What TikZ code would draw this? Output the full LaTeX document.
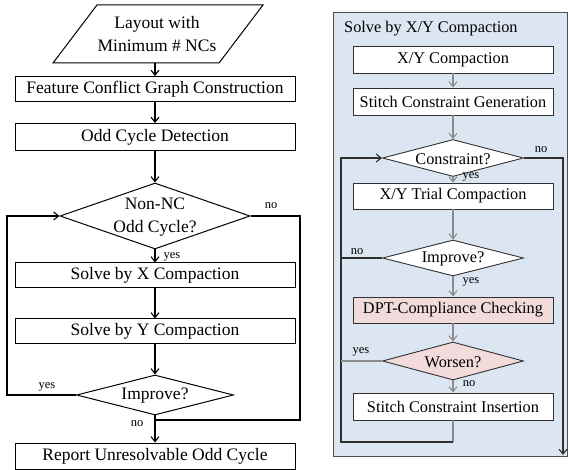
\documentclass[tikz,border=0pt]{standalone}
\usepackage{fontspec}
\setmainfont{Liberation Serif}
\usetikzlibrary{shapes.geometric,arrows.meta}
\definecolor{panelblue}{HTML}{DCE6F2}
\definecolor{pinkfill}{HTML}{F2DCDB}
\definecolor{edgedark}{HTML}{303030}
\definecolor{flowgray}{HTML}{8C8C8C}
\definecolor{panelborder}{HTML}{505050}
\begin{document}
\begin{tikzpicture}[x=1pt,y=-1pt,
  tip/.style={-{Straight Barb[length=5pt,width=8pt]}},
  lfont/.style={font=\fontsize{17.5pt}{23pt}\selectfont},
  rfont/.style={font=\fontsize{16.3pt}{20pt}\selectfont},
  small/.style={font=\fontsize{12.5pt}{14pt}\selectfont, inner sep=0pt},
  lbox/.style={lfont, draw=black, line width=1pt, fill=white, minimum width=280pt, minimum height=25pt, inner sep=0pt},
  ldia/.style={diamond, draw=black, line width=1pt, fill=white, inner sep=0pt},
  rbox/.style={rfont, draw=edgedark, line width=0.9pt, fill=white, minimum width=200pt, minimum height=26pt, inner sep=0pt},
  rdia/.style={diamond, draw=edgedark, line width=0.9pt, fill=white, inner sep=0pt, minimum width=141pt, minimum height=37pt},
  lline/.style={draw=black, line width=1.1pt},
  gline/.style={draw=flowgray, line width=1.1pt},
  dline/.style={draw=edgedark, line width=1.1pt}
]
\useasboundingbox (0,0) rectangle (568,470);
\fill[white] (0,0) rectangle (568,470);

% ---------- left flow ----------
\draw[line width=1pt] (53,63) -- (97,5) -- (263,5) -- (219,63) -- cycle;
\node[lfont, align=center, inner sep=0pt] (inp) at (157,34) {Layout with\\Minimum \# NCs};
\coordinate (inpb) at (155,63);

\node[lbox] (fcg) at (155,89) {Feature Conflict Graph Construction};
\node[lbox, minimum height=27pt] (ocd) at (155,137) {Odd Cycle Detection};
\node[ldia, minimum width=190pt, minimum height=66pt] (nnc) at (155,216) {};
\node[lfont, align=center, inner sep=0pt] (nnct) at (155,217) {Non-NC\\Odd Cycle?};
\node[lbox] (sx) at (155,275.5) {Solve by X Compaction};
\node[lbox] (sy) at (155,331.5) {Solve by Y Compaction};
\node[ldia, minimum width=157pt, minimum height=40pt] (imp) at (155,395) {};
\node[lfont, inner sep=0pt] (impt) at (155,396) {Improve?};
\node[lbox, minimum height=26pt] (rep) at (155,456) {Report Unresolvable Odd Cycle};

\draw[lline, tip] (inpb) -- (fcg.north);
\draw[lline, tip] (fcg.south) -- (ocd.north);
\draw[lline, tip] (ocd.south) -- (nnc.north);
\draw[lline, tip] (nnc.south) -- (sx.north);
\draw[lline, tip] (sx.south) -- (sy.north);
\draw[lline, tip] (sy.south) -- (imp.north);
\draw[lline, tip] (imp.south) -- (rep.north);

\coordinate (rr) at (300,420);
\coordinate (nojoin) at (155,420);
\draw[lline] (nnc.east) -- (nnc.east -| rr) -- (rr) -- (nojoin);
\coordinate (ll) at (7,395);
\draw[lline, tip] (imp.west) -- (ll) -- (ll |- nnc.west) -- (nnc.west);

\node[small] (lno1) at (271,206) {no};
\node[small] (lyes1) at (172,257) {yes};
\node[small] (lyes2) at (47,387) {yes};
\node[small] (lno2) at (137,424) {no};

% ---------- right panel ----------
\node[draw=panelborder, fill=panelblue, line width=1pt, minimum width=234pt, minimum height=443pt, inner sep=0pt] (panel) at (450,234.5) {};
\node[rfont, anchor=west, inner sep=0pt] (ptitle) at (344,29) {Solve by X/Y Compaction};

\node[rbox, minimum height=27pt] (xyc) at (453,59.5) {X/Y Compaction};
\node[rbox, minimum height=27pt] (scg) at (453,101.5) {Stitch Constraint Generation};
\node[rdia] (con) at (453,158) {};
\node[rfont, inner sep=0pt] (cont) at (453,159) {Constraint?};
\node[rbox] (xyt) at (453,196) {X/Y Trial Compaction};
\node[rdia, minimum height=36pt] (imp2) at (453,258) {};
\node[rfont, inner sep=0pt] (imp2t) at (453,259) {Improve?};
\node[rbox, fill=pinkfill] (dpt) at (453,310) {DPT-Compliance Checking};
\node[rdia, fill=pinkfill, minimum height=38pt] (wor) at (453,361) {};
\node[rfont, inner sep=0pt] (wort) at (453,362) {Worsen?};
\node[rbox, minimum height=27pt] (sci) at (453,406.5) {Stitch Constraint Insertion};

\draw[gline, tip] (xyc.south) -- (scg.north);
\draw[gline, tip] (scg.south) -- (con.north);
\draw[gline, tip] (con.south) -- (xyt.north);
\draw[gline, tip] (xyt.south) -- (imp2.north);
\draw[gline, tip] (imp2.south) -- (dpt.north);
\draw[gline, tip] (dpt.south) -- (wor.north);
\draw[gline, tip] (wor.south) -- (sci.north);

\coordinate (lb) at (341,442);
\draw[gline] (sci.south) -- (sci.south |- lb);
\draw[dline, tip] (sci.south |- lb) -- (lb) -- (lb |- con.west) -- (con.west);
\draw[dline] (imp2.west) -- (imp2.west -| lb);
\draw[gline] (wor.west) -- (wor.west -| lb);
\coordinate (rb) at (563,455);
\draw[dline, tip] (con.east) -- (con.east -| rb) -- (rb);

\node[small] (rno1) at (541,150) {no};
\node[small] (ryes1) at (471,177) {yes};
\node[small] (rno2) at (357,252) {no};
\node[small] (ryes2) at (471,282) {yes};
\node[small] (ryes3) at (361,352) {yes};
\node[small] (rno3) at (469,384) {no};
\end{tikzpicture}
\end{document}
